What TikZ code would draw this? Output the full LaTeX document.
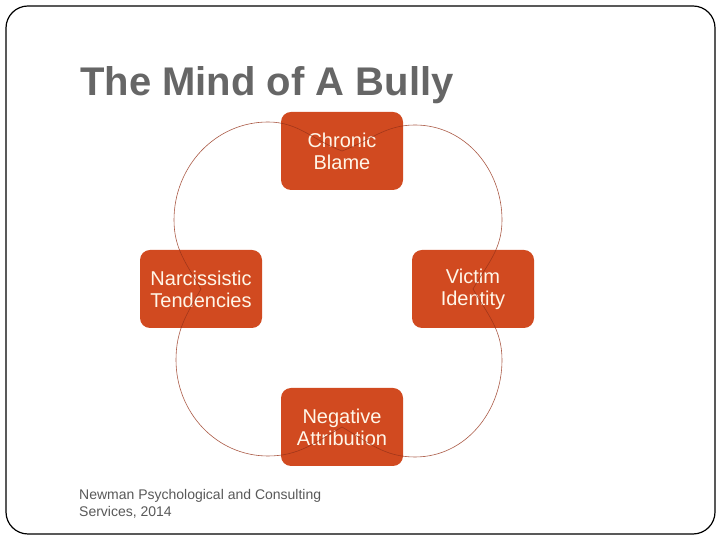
\documentclass[tikz,border=0pt]{standalone}
\usepackage{fontspec}
\setmainfont{Liberation Sans}
\definecolor{boxfill}{RGB}{209,74,32}
\definecolor{boxtext}{RGB}{255,246,232}
\definecolor{titlegray}{RGB}{102,102,102}
\definecolor{footgray}{RGB}{89,89,89}
\definecolor{arcred}{RGB}{150,50,25}
\tikzset{
  cyclebox/.style={fill=boxfill, draw=none, rounded corners=10pt, minimum width=122pt, minimum height=78pt,
    text=boxtext, align=center, font=\fontsize{20}{22}\selectfont, inner sep=0pt},
  cyclearc/.style={draw=arcred, line width=0.6pt, opacity=0.8},
}
\begin{document}
\begin{tikzpicture}[x=1pt,y=1pt]
\useasboundingbox (0,0) rectangle (720,540);
\fill[white] (0,0) rectangle (720,540);
\draw[line width=1.2pt, rounded corners=22pt] (6,6) rectangle (715,534);
\node[anchor=base west, text=titlegray, font=\bfseries\fontsize{40}{46}\selectfont, inner sep=0pt] (title) at (80,444) {The Mind of A Bully};
\node[cyclebox] (top) at (342,389) {Chronic\\Blame};
\node[cyclebox] (left) at (201,251) {Narcissistic\\Tendencies};
\node[cyclebox] (right) at (473,251) {Victim\\Identity};
\node[cyclebox] (bottom) at (342,113) {Negative\\Attribution};
\coordinate (tl) at (268,418);
\coordinate (lt) at (174,320);
\coordinate (tr) at (415,415);
\coordinate (rt) at (502,320);
\coordinate (lb) at (176,180);
\coordinate (bl) at (268,84);
\coordinate (rb) at (502,180);
\coordinate (br) at (415,83);
\draw[cyclearc] (top.center) to[out=160,in=0] (tl) to[out=180,in=90] (lt) to[out=-90,in=120] (left.center);
\draw[cyclearc] (top.center) to[out=20,in=180] (tr) to[out=0,in=90] (rt) to[out=-90,in=60] (right.center);
\draw[cyclearc] (left.center) to[out=-120,in=90] (lb) to[out=-90,in=180] (bl) to[out=0,in=210] (bottom.center);
\draw[cyclearc] (right.center) to[out=-60,in=90] (rb) to[out=-90,in=0] (br) to[out=180,in=-30] (bottom.center);
\node[anchor=base west, text=footgray, font=\fontsize{14}{17}\selectfont, inner sep=0pt, align=left] (foot) at (79,40) {Newman Psychological and Consulting};
\node[anchor=base west, text=footgray, font=\fontsize{14}{17}\selectfont, inner sep=0pt] (foot2) at (79,23) {Services, 2014};
\end{tikzpicture}
\end{document}
